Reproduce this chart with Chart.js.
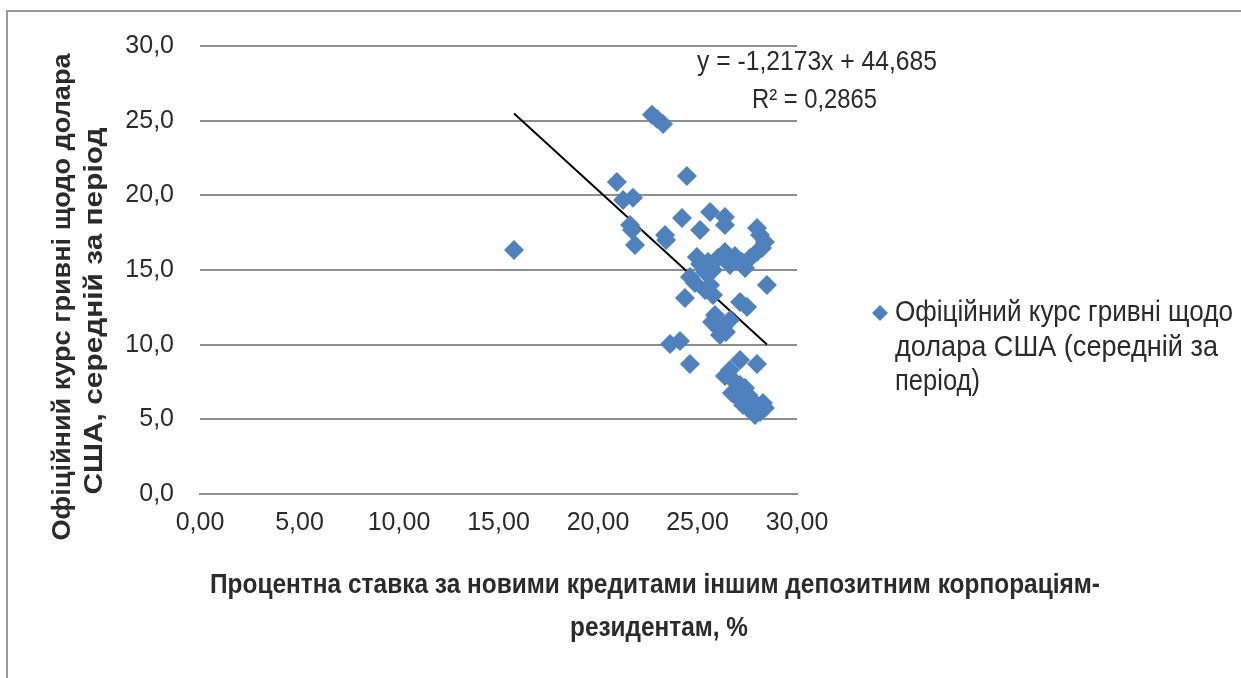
<!DOCTYPE html>
<html>
<head>
<meta charset="utf-8">
<script src="https://cdn.jsdelivr.net/npm/chart.js@4.4.1/dist/chart.umd.min.js"></script>
<style>
  html, body { margin: 0; padding: 0; background: #fff; }
  #wrap { width: 1241px; height: 678px; position: relative; }
</style>
</head>
<body>
<div id="wrap"><canvas id="chart" width="1241" height="678"></canvas></div>
<script>
// interest rate on new loans, %
const rateX = [15.78, 20.95, 21.26, 21.76, 21.61, 21.71, 21.86, 22.71, 22.96, 23.27, 24.47, 23.37, 23.42, 24.22, 25.13, 25.63, 26.38, 26.38, 27.99, 28.14,
  28.39, 24.97, 25.13, 24.62, 25.53, 26.03, 26.38, 26.88, 27.24, 27.64, 27.99, 28.24, 27.39, 26.63, 25.78, 25.38, 28.49, 24.37, 25.78, 25.63,
  27.14, 27.49, 25.73, 26.03, 26.28, 26.63, 26.13, 26.43, 25.88, 23.62, 24.12, 24.62, 27.14, 27.99, 26.38, 26.63, 26.88, 26.73, 27.04, 27.39,
  27.29, 27.64, 27.89, 28.14, 28.39, 27.74, 27.54, 27.14, 27.89, 28.29, 24.87, 25.38];
// official UAH/USD rate, period average
const usdY = [16.34, 20.90, 19.69, 19.83, 18.02, 17.68, 16.68, 25.39, 25.12, 24.78, 21.30, 17.35, 17.01, 18.49, 17.68, 18.89, 18.55, 18.02, 17.82, 17.35,
  16.88, 15.87, 15.41, 14.53, 15.54, 15.81, 16.21, 15.94, 15.54, 15.81, 16.21, 16.48, 15.14, 15.34, 15.00, 14.87, 14.00, 13.13, 13.33, 14.00,
  12.86, 12.53, 11.52, 11.12, 11.19, 11.65, 10.65, 10.85, 11.99, 10.05, 10.25, 8.71, 8.98, 8.71, 7.90, 8.31, 7.50, 6.76, 6.43, 7.10,
  5.96, 5.63, 5.29, 5.49, 5.76, 6.30, 6.63, 7.30, 5.96, 6.10, 14.13, 13.66];

const xTickLabels = ['0,00', '5,00', '10,00', '15,00', '20,00', '25,00', '30,00'];
const yTickLabels = ['0,0', '5,0', '10,0', '15,0', '20,0', '25,0', '30,0'];

const trendSlope = -1.2173;
const trendIntercept = 44.685;
const trendText = ['y = -1,2173x + 44,685', 'R² = 0,2865'];

const legendLines = ['Офіційний курс гривні щодо', 'долара США (середній за', 'період)'];
const xTitleLines = ['Процентна ставка за новими кредитами іншим депозитним корпораціям-', 'резидентам, %'];
const yTitleLines = ['Офіційний курс гривні щодо долара', 'США, середній за період'];

const BLUE = '#4F81BD';
const GRID = '#8e8e8e';
const TEXT = '#2b2b2b';
const FONT = "'Liberation Sans', Arial, sans-serif";

const points = rateX.map((x, i) => ({ x: x, y: usdY[i] }));
const xMin = Math.min(...rateX), xMax = Math.max(...rateX);
const trend = [xMin, xMax].map(x => ({ x: x, y: trendSlope * x + trendIntercept }));

// draw text squeezed/stretched along its run to a given width
function fitText(ctx, text, x, y, width, font, align) {
  ctx.save();
  ctx.font = font;
  ctx.textAlign = align || 'left';
  ctx.textBaseline = 'middle';
  const k = width / ctx.measureText(text).width;
  ctx.translate(x, y);
  ctx.scale(k, 1);
  ctx.fillText(text, 0, 0);
  ctx.restore();
}

const decor = {
  id: 'decor',
  beforeDraw(chart) {
    const ctx = chart.ctx;
    ctx.save();
    ctx.fillStyle = '#fff';
    ctx.fillRect(0, 0, chart.width, chart.height);
    ctx.strokeStyle = '#9a9a9a';
    ctx.lineWidth = 2;
    ctx.beginPath();
    ctx.moveTo(7, chart.height);
    ctx.lineTo(7, 11);
    ctx.lineTo(chart.width, 11);
    ctx.stroke();
    ctx.restore();
  },
  afterDraw(chart) {
    const ctx = chart.ctx;
    ctx.save();
    ctx.fillStyle = TEXT;

    // trendline label
    fitText(ctx, trendText[0], 697, 62, 240, '28px ' + FONT);
    fitText(ctx, trendText[1], 752, 100, 125, '28px ' + FONT);

    // legend
    ctx.fillStyle = BLUE;
    ctx.beginPath();
    ctx.moveTo(880, 305); ctx.lineTo(888, 313); ctx.lineTo(880, 321); ctx.lineTo(872, 313);
    ctx.closePath();
    ctx.fill();
    ctx.fillStyle = TEXT;
    const legendW = [338, 323, 85];
    legendLines.forEach((t, i) => fitText(ctx, t, 895, 313 + i * 34.5, legendW[i], '30px ' + FONT));

    // x axis title
    fitText(ctx, xTitleLines[0], 655, 585, 890, 'bold 28px ' + FONT, 'center');
    fitText(ctx, xTitleLines[1], 659, 628, 178, 'bold 28px ' + FONT, 'center');

    // y axis title
    ctx.translate(0, 0);
    ctx.save();
    ctx.translate(63, 297);
    ctx.rotate(-Math.PI / 2);
    fitText(ctx, yTitleLines[0], 0, 0, 487, 'bold 25px ' + FONT, 'center');
    ctx.restore();
    ctx.save();
    ctx.translate(95, 311);
    ctx.rotate(-Math.PI / 2);
    fitText(ctx, yTitleLines[1], 0, 0, 367, 'bold 25px ' + FONT, 'center');
    ctx.restore();
    ctx.restore();
  }
};

new Chart(document.getElementById('chart'), {
  type: 'scatter',
  data: {
    datasets: [
      {
        label: legendLines.join(' '),
        data: points,
        pointStyle: 'rectRot',
        pointRadius: 10,
        pointHoverRadius: 10,
        backgroundColor: BLUE,
        borderColor: BLUE,
        borderWidth: 0
      },
      {
        type: 'line',
        label: 'trend',
        data: trend,
        showLine: true,
        borderColor: '#000',
        borderWidth: 2,
        pointRadius: 0,
        fill: false
      }
    ]
  },
  options: {
    responsive: false,
    animation: false,
    events: [],
    layout: { padding: { left: 0, top: 46, right: 444, bottom: 0 } },
    plugins: {
      legend: { display: false },
      tooltip: { enabled: false }
    },
    scales: {
      x: {
        type: 'linear',
        min: 0,
        max: 30,
        ticks: {
          stepSize: 5,
          padding: 14,
          color: TEXT,
          font: { family: FONT, size: 25 },
          callback: (v, i) => xTickLabels[i]
        },
        grid: { display: false, drawTicks: false },
        border: { display: true, color: GRID, width: 2 },
        afterFit: s => { s.height = 184; }
      },
      y: {
        min: 0,
        max: 30,
        ticks: {
          stepSize: 5,
          padding: 26,
          color: TEXT,
          font: { family: FONT, size: 25 },
          callback: (v, i) => yTickLabels[i]
        },
        grid: { color: GRID, lineWidth: 2, drawTicks: false },
        border: { display: false },
        afterFit: s => { s.width = 200; }
      }
    }
  },
  plugins: [decor]
});
</script>
</body>
</html>
